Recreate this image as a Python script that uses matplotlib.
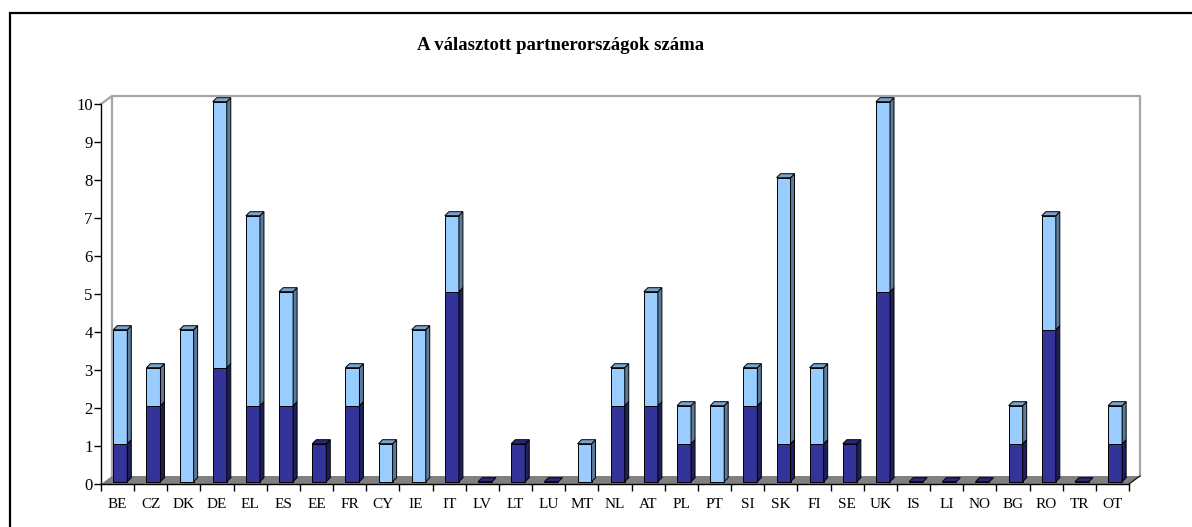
"""Stacked 3D-style bar chart of chosen partner countries."""

import matplotlib
matplotlib.use("Agg")
import matplotlib.pyplot as plt
import numpy as np
from matplotlib.patches import Polygon, Rectangle

countries = ["BE", "CZ", "DK", "DE", "EL", "ES", "EE", "FR", "CY", "IE", "IT",
             "LV", "LT", "LU", "MT", "NL", "AT", "PL", "PT", "SI", "SK", "FI",
             "SE", "UK", "IS", "LI", "NO", "BG", "RO", "TR", "OT"]
dark_part = [1, 2, 0, 3, 2, 2, 1, 2, 0, 0, 5, 0, 1, 0, 0, 2, 2, 1, 0, 2, 1, 1,
             1, 5, 0, 0, 0, 1, 4, 0, 1]
light_part = [3, 1, 4, 7, 5, 3, 0, 1, 1, 4, 2, 0, 0, 0, 1, 1, 3, 1, 2, 1, 7, 2,
              0, 5, 0, 0, 0, 1, 3, 0, 1]
title = "A választott partnerországok száma"

W, H = 1192, 527
fig = plt.figure(figsize=(W / 100, H / 100), dpi=100)
plt.rcParams["font.family"] = ["Liberation Serif", "DejaVu Serif"]

# plot box in pixels
x0, x1, y0, y1 = 101, 1129, 484, 104
ax = fig.add_axes([x0 / W, 1 - y0 / H, (x1 - x0) / W, (y0 - y1) / H])
n = len(countries)
ax.set_xlim(0, n)
ax.set_ylim(0, 10)
px_x = (x1 - x0) / n
px_y = (y0 - y1) / 10.0

def dx(p):
    return p / px_x

def dy(p):
    return p / px_y

# floor and back wall
fdx, fdy = dx(11), dy(8)
floor = Polygon([(0, 0), (n, 0), (n + fdx, fdy), (fdx, fdy)], closed=True,
                facecolor="#808080", edgecolor="none", clip_on=False, zorder=1)
ax.add_patch(floor)
wall_kw = dict(color="#a6a6a6", lw=1.6, clip_on=False, zorder=0.5)
ax.plot([fdx, fdx, n + fdx, n + fdx], [fdy, 10 + fdy, 10 + fdy, fdy], **wall_kw)
ax.plot([0, fdx], [10, 10 + fdy], **wall_kw)
ax.plot([n, n + fdx], [0, fdy], color="black", lw=0.8, clip_on=False, zorder=2)

# bars
bw = dx(14)
bdx, bdy = dx(4), dy(4)
off_x = dx(12.3)
base = dy(2.3)
idx = np.arange(n)
left = idx + off_x
dark = np.array(dark_part, dtype=float)
light = np.array(light_part, dtype=float)
total = dark + light

colors = {
    "dark": ("#333399", "#1f1f5c", "#29297a"),
    "light": ("#99ccff", "#5c7a99", "#7aa3cc"),
}
ekw = dict(edgecolor="black", linewidth=0.7)

bars_dark = ax.bar(left, dark, width=bw, bottom=base, align="edge",
                   color=colors["dark"][0], zorder=3, **ekw)
bars_light = ax.bar(left, light, width=bw, bottom=base + dark, align="edge",
                    color=colors["light"][0], zorder=3, **ekw)
for p in list(bars_dark) + list(bars_light):
    p.set_clip_on(False)

for i in idx:
    segs = []
    if dark[i] > 0:
        segs.append((base, base + dark[i], "dark"))
    if light[i] > 0:
        segs.append((base + dark[i], base + total[i], "light"))
    xl, xr = left[i], left[i] + bw
    for b, t, key in segs:
        side = Polygon([(xr, b), (xr + bdx, b + bdy), (xr + bdx, t + bdy), (xr, t)],
                       closed=True, facecolor=colors[key][1], zorder=3,
                       clip_on=False, **ekw)
        ax.add_patch(side)
    top_key = segs[-1][2] if segs else "dark"
    t = base + total[i]
    top = Polygon([(xl, t), (xr, t), (xr + bdx, t + bdy), (xl + bdx, t + bdy)],
                  closed=True, facecolor=colors[top_key][2], zorder=3,
                  clip_on=False, **ekw)
    ax.add_patch(top)

# axes styling
for s in ["top", "right"]:
    ax.spines[s].set_visible(False)
ax.spines["left"].set_linewidth(1.0)
ax.spines["bottom"].set_linewidth(1.0)
ax.spines["bottom"].set_zorder(2)
ax.set_yticks(range(0, 11))
ax.tick_params(axis="y", direction="out", length=5, width=1, labelsize=12, pad=1)
ax.set_xticks(np.arange(n + 1))
ax.set_xticklabels([])
ax.tick_params(axis="x", which="major", direction="out", length=5, width=1)
ax.set_xticks(idx + 0.5, minor=True)
ax.set_xticklabels(countries, minor=True, fontsize=11)
ax.tick_params(axis="x", which="minor", length=0, pad=10)
ax.set_facecolor("none")

fig.text(561 / W, 1 - 45 / H, title, ha="center", va="center",
         fontsize=13.5, fontweight="bold")

# outer frame (cropped at right and bottom)
fig.patches.append(Rectangle((10 / W, -0.1), 1.2, 1.1 - 13 / H,
                             transform=fig.transFigure, fill=False,
                             edgecolor="black", lw=1.6))

fig.savefig("out.png", dpi=100)
